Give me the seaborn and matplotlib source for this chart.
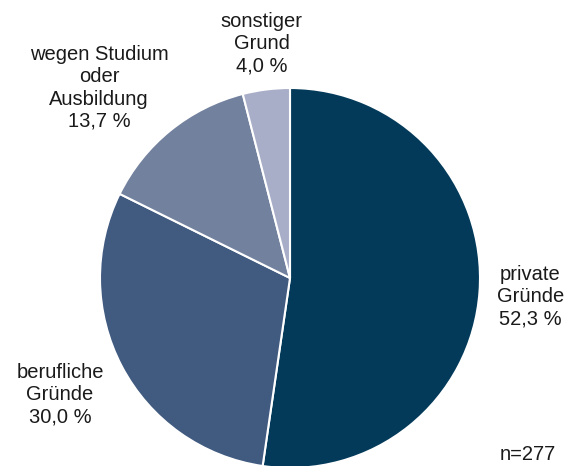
import seaborn as sns
import matplotlib.pyplot as plt

categories = ["private\nGründe", "berufliche\nGründe", "wegen Studium\noder\nAusbildung", "sonstiger\nGrund"]
shares = [52.3, 30.0, 13.7, 4.0]
colors = ["#033a5a", "#405a80", "#72819e", "#a8aec7"]
n_total = 277

# label anchor positions (data units, pie radius = 1)
label_pos = [(1.265, -0.10), (-1.21, -0.615), (-1.005, 1.0), (-0.148, 1.232)]

sns.set_style("white")
plt.rcParams["font.family"] = ["Liberation Sans", "DejaVu Sans"]

fig = plt.figure(figsize=(5.73, 4.66), dpi=100)
# pie centre at (290, 278) px, radius 190 px
ax = fig.add_axes([100 / 573, (466 - 468) / 466, 380 / 573, 380 / 466])

ax.pie(shares, colors=colors, startangle=90, counterclock=False,
       wedgeprops=dict(edgecolor="white", linewidth=1.5))
ax.set_xlim(-1, 1)
ax.set_ylim(-1, 1)
ax.set_aspect("equal")
ax.axis("off")

for cat, val, (x, y) in zip(categories, shares, label_pos):
    txt = f"{cat}\n{val:.1f} %".replace(".", ",")
    ax.text(x, y, txt, ha="center", va="center", fontsize=14.5,
            color="#1a1a1a", linespacing=1.22)

fig.text(556 / 573, 1 - 455 / 466, f"n={n_total}", ha="right", va="center",
         fontsize=14.5, color="#1a1a1a")

fig.savefig("out.png", dpi=100)
